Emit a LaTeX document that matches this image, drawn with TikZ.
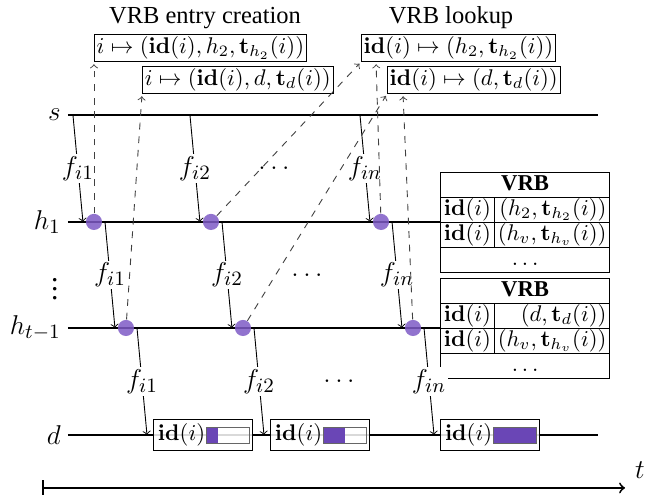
\documentclass[tikz,border=0pt]{standalone}
\usepackage[no-math]{fontspec}
\setmainfont{Liberation Serif}
\usetikzlibrary{positioning,calc}
\definecolor{dotPurple}{RGB}{126,90,198}
\definecolor{barPurple}{RGB}{106,70,182}
\newcommand{\bigLabel}{\fontsize{13}{15}\selectfont}
\tikzset{
  timeline/.style={thick},
  hop/.style={->},
  hoplabel/.style={midway, fill=white, inner sep=1pt, font=\bigLabel},
  vrbdot/.style={circle, fill=dotPurple, fill opacity=0.85, inner sep=0pt, minimum size=0.25cm},
  vrbmsg/.style={draw, inner sep=1pt},
  lookup/.style={->, dashed, black!75, shorten >=1pt},
  linelabel/.style={anchor=east, inner sep=3pt, font=\bigLabel},
  idbox/.style={draw, fill=white, fill opacity=0.85, text opacity=1, anchor=west, inner sep=2pt,
    text width=1.535cm-4pt, minimum height=0.45cm, align=left},
  barframe/.style={draw=black!60}
}
\begin{document}
\begin{tikzpicture}
    \useasboundingbox (0,0) rectangle (10,7.674);
    \def\ySource{5.891}
    \def\yFirst{4.233}
    \def\yLast{2.589}
    \def\yDest{0.930}
    \def\xStart{1.054}
    \def\xEnd{9.271}
    \def\xTable{6.822}

    % process lines
    \coordinate (sL) at (\xStart,\ySource);
    \coordinate (sR) at (\xEnd,\ySource);
    \coordinate (hAL) at (\xStart,\yFirst);
    \coordinate (hAR) at (\xTable,\yFirst);
    \coordinate (hBL) at (\xStart,\yLast);
    \coordinate (hBR) at (\xTable,\yLast);
    \coordinate (dL) at (\xStart,\yDest);
    \coordinate (dR) at (\xEnd,\yDest);
    \draw[timeline] (sL) -- (sR);
    \draw[timeline] (hAL) -- (hAR);
    \draw[timeline] (hBL) -- (hBR);
    \draw[timeline] (dL) -- (dR);
    \node[linelabel] (sName) at (sL) {$s$};
    \node[linelabel] (hAName) at (hAL) {$h_1$};
    \node[linelabel, inner sep=1pt, xshift=-3pt] (vName) at (\xStart,3.30) {$\vdots$};
    \node[linelabel] (hBName) at (hBL) {$h_{t-1}$};
    \node[linelabel] (dName) at (dL) {$d$};

    % VRB tables
    \node[anchor=north west, inner sep=0pt] (vrbA) at (\xTable,5.008) {%
      \renewcommand{\arraystretch}{0.88}\setlength{\tabcolsep}{1.5pt}%
      \begin{tabular}{|c|r|}\hline
        \multicolumn{2}{|c|}{\textbf{VRB}}\\\hline
        $\mathbf{id}(i)$ & $(h_2,\mathbf{t}_{h_2}(i))$\\\hline
        $\mathbf{id}(i)$ & $(h_v,\mathbf{t}_{h_v}(i))$\\\hline
        \multicolumn{2}{|c|}{$\dots$}\\\hline
      \end{tabular}};
    \node[anchor=north west, inner sep=0pt] (vrbB) at (\xTable,3.364) {%
      \renewcommand{\arraystretch}{0.88}\setlength{\tabcolsep}{1.5pt}%
      \begin{tabular}{|c|r|}\hline
        \multicolumn{2}{|c|}{\textbf{VRB}}\\\hline
        $\mathbf{id}(i)$ & $(d,\mathbf{t}_{d}(i))$\\\hline
        $\mathbf{id}(i)$ & $(h_v,\mathbf{t}_{h_v}(i))$\\\hline
        \multicolumn{2}{|c|}{$\dots$}\\\hline
      \end{tabular}};

    % messages
    \foreach \j/\x in {1/1.457, 2/3.271, 3/5.907} {
        \coordinate (sOut\j) at (\x-0.326,\ySource);
        \node[vrbdot] (hA\j) at (\x,\yFirst) {};
        \node[vrbdot] (hB\j) at (\x+0.496,\yLast) {};
        \coordinate (dIn\j) at (\x+0.822,\yDest);
        \node[idbox] (idBox\j) at (\x+0.915,\yDest) {$\mathbf{id}(i)$};
    }
    \foreach \j/\k in {1/1, 2/2, 3/n} {
        \draw[hop] (sOut\j) -- ($(hA\j)+(-0.171,0)$) node[hoplabel] {$f_{i\k}$};
        \draw[hop] ($(hA\j)+(0.171,0)$) -- ($(hB\j)+(-0.171,0)$) node[hoplabel] {$f_{i\k}$};
        \draw[hop] ($(hB\j)+(0.171,0)$) -- (dIn\j) node[hoplabel] {$f_{i\k}$};
    }
    \node[font=\bigLabel] (gapA) at (4.248,5.062) {$\dots$};
    \node[font=\bigLabel] (gapB) at (4.760,3.411) {$\dots$};
    \node[font=\bigLabel] (gapC) at (5.256,1.760) {$\dots$};

    % progress bars
    \foreach \j/\part in {1/0.25, 2/0.5, 3/1} {
        \fill[barPurple] ($(idBox\j.east)+(-0.714,-0.124)$) rectangle ++(0.667*\part,0.248);
        \draw[barframe] ($(idBox\j.east)+(-0.047,-0.124)$) rectangle ++(-0.667,0.248);
    }

    % VRB entries
    \node[vrbmsg, anchor=south west] (entryA) at (1.457,6.713) {$i\mapsto(\mathbf{id}(i),h_2,\mathbf{t}_{h_2}(i))$};
    \node[vrbmsg, anchor=south west] (entryB) at (2.202,6.217) {$i\mapsto(\mathbf{id}(i),d,\mathbf{t}_{d}(i))$};
    \node[vrbmsg, anchor=south west] (lookA) at (5.597,6.713) {$\mathbf{id}(i)\mapsto(h_2,\mathbf{t}_{h_2}(i))$};
    \node[vrbmsg, anchor=south west] (lookB) at (6.000,6.217) {$\mathbf{id}(i)\mapsto(d,\mathbf{t}_{d}(i))$};
    \node[font=\fontsize{10.8}{13}\selectfont] (creation) at (3.178,7.395) {VRB entry creation};
    \node[font=\fontsize{10.8}{13}\selectfont] (lookup) at (6.992,7.395) {VRB lookup};

    \draw[lookup] (hA1) -- (entryA.south west);
    \draw[lookup] (hB1) -- (entryB.south west);
    \draw[lookup] (hA2) -- (lookA.south west);
    \draw[lookup] (hA3) -- ($(lookA.south west)+(0.233,0)$);
    \draw[lookup] (hB2) -- (lookB.south west);
    \draw[lookup] (hB3) -- ($(lookB.south west)+(0.248,0)$);

    % time axis
    \coordinate (tStart) at (0.651,0.109);
    \coordinate (tEnd) at (9.690,0.109);
    \draw[thick,|->] (tStart) -- (tEnd);
    \node[font=\bigLabel] (tName) at (9.922,0.388) {$t$};
\end{tikzpicture}
\end{document}
